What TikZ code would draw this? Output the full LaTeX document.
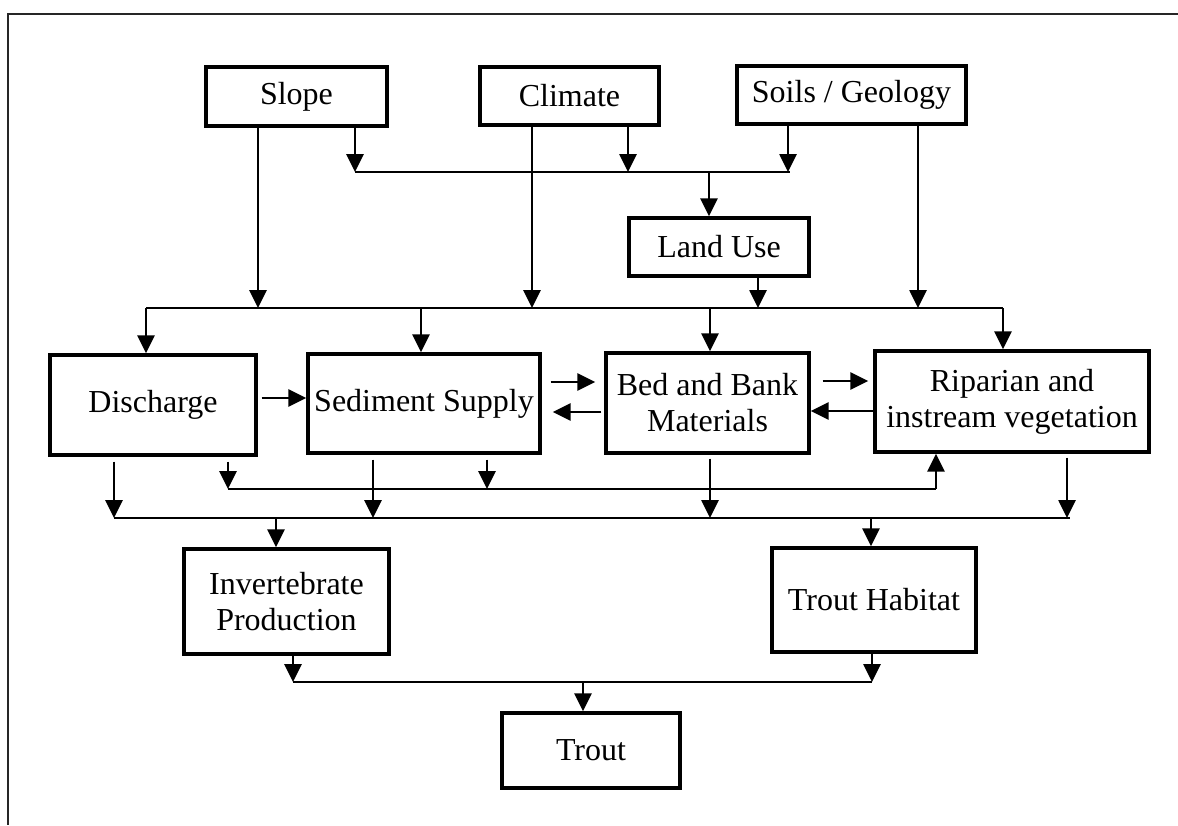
\documentclass[tikz,border=0pt]{standalone}
\usepackage{fontspec}
\setmainfont{Liberation Serif}
\usetikzlibrary{arrows.meta, positioning}

\begin{document}
\begin{tikzpicture}[x=0.5pt, y=-0.5pt, >={Triangle[length=9pt, width=8.5pt]},
    box/.style={draw, line width=1.7pt, align=center, inner sep=2pt,
      font=\fontsize{16}{18}\selectfont},
    link/.style={line width=1.35pt},
    arr/.style={link, ->}]
  \useasboundingbox (0,0) rectangle (1178,825);

  % --- Frame ---
  \draw[line width=0.8pt, black!85] (1178,14) -- (8,14) -- (8,825);

  % --- Top row ---
  \node[box, minimum width=90.5pt, minimum height=29.5pt] (slope) at (296.5,96.5) {Slope};
  \node[box, minimum width=89.5pt, minimum height=29pt] (climate) at (569.5,96) {Climate};
  \node[box, minimum width=114.5pt, minimum height=29pt] (soils) at (851.5,95) {Soils / Geology\strut};
  \node[box, minimum width=90pt, minimum height=29pt] (landuse) at (719,247) {Land Use};

  % --- Middle row ---
  \node[box, minimum width=103pt, minimum height=50pt] (discharge) at (153,405) {Discharge};
  \node[box, minimum width=116pt, minimum height=49.5pt] (sediment) at (424,403.5) {Sediment Supply};
  \node[box, minimum width=101.5pt, minimum height=50pt] (bedbank) at (707.5,403) {Bed and Bank\\Materials};
  \node[box, minimum width=137pt, minimum height=50.5pt] (riparian) at (1012,401.5) {Riparian and\\instream vegetation};

  % --- Lower rows ---
  \node[box, minimum width=102.5pt, minimum height=52.5pt] (invert) at (286.5,601.5) {Invertebrate\\Production};
  \node[box, minimum width=102pt, minimum height=52pt] (habitat) at (874,600) {Trout Habitat};
  \node[box, minimum width=89pt, minimum height=37.5pt] (trout) at (591,750.5) {Trout};

  % --- Bus into Land Use ---
  \coordinate (topL) at (355,172);
  \coordinate (topR) at (790,172);
  \draw[link] (topL) -- (topR);
  \draw[arr] (slope.south -| topL) -- (topL);
  \draw[arr] (climate.south -| 628,0) -- (628,172);
  \draw[arr] (soils.south -| 788,0) -- (788,172);
  \draw[arr] (709,172) -- (landuse.north -| 709,0);

  % --- Bus into the middle row ---
  \coordinate (midL) at (146,308);
  \coordinate (midR) at (1003,308);
  \draw[link] (midL) -- (midR);
  \draw[arr] (slope.south -| 258,0) -- (258,308);
  \draw[arr] (climate.south -| 532,0) -- (532,308);
  \draw[arr] (landuse.south -| 758,0) -- (758,308);
  \draw[arr] (soils.south -| 918,0) -- (918,308);
  \draw[arr] (midL) -- (discharge.north -| midL);
  \draw[arr] (421,308) -- (sediment.north -| 421,0);
  \draw[arr] (710,308) -- (bedbank.north -| 710,0);
  \draw[arr] (midR) -- (riparian.north -| midR);

  % --- Links inside the middle row ---
  \draw[arr, shorten <=2pt] (discharge.east |- 0,398) -- (sediment.west |- 0,398);
  \draw[arr, shorten <=4.5pt, shorten >=4.5pt] (sediment.east |- 0,382) -- (bedbank.west |- 0,382);
  \draw[arr, shorten <=1.5pt, shorten >=5.5pt] (bedbank.west |- 0,412) -- (sediment.east |- 0,412);
  \draw[arr, shorten <=6pt, shorten >=2.5pt] (bedbank.east |- 0,381) -- (riparian.west |- 0,381);
  \draw[arr] (riparian.west |- 0,411) -- (bedbank.east |- 0,411);

  % --- Feedback bus to riparian ---
  \coordinate (fbL) at (228,489);
  \coordinate (fbR) at (936,489);
  \draw[link] (fbL) -- (fbR);
  \draw[arr] (fbR) -- (riparian.south -| fbR);
  \draw[arr, shorten <=2.5pt] (discharge.south -| fbL) -- (fbL);
  \draw[arr, shorten <=2.5pt] (sediment.south -| 487,0) -- (487,489);

  % --- Bus into the lower row ---
  \coordinate (botL) at (114,518);
  \coordinate (botR) at (1070,518);
  \draw[link] (botL) -- (botR);
  \draw[arr, shorten <=2.5pt] (discharge.south -| botL) -- (botL);
  \draw[arr, shorten <=2.5pt] (sediment.south -| 373,0) -- (373,518);
  \draw[arr, shorten <=2pt] (bedbank.south -| 710,0) -- (710,518);
  \draw[arr, shorten <=2pt] (riparian.south -| 1067,0) -- (1067,518);
  \draw[arr] (276,518) -- (invert.north -| 276,0);
  \draw[arr] (871,518) -- (habitat.north -| 871,0);

  % --- Bus into Trout ---
  \coordinate (finL) at (293,682);
  \coordinate (finR) at (872,682);
  \draw[link] (finL) -- (finR);
  \draw[arr] (invert.south -| finL) -- (finL);
  \draw[arr] (habitat.south -| finR) -- (finR);
  \draw[arr] (583,682) -- (trout.north -| 583,0);
\end{tikzpicture}
\end{document}
